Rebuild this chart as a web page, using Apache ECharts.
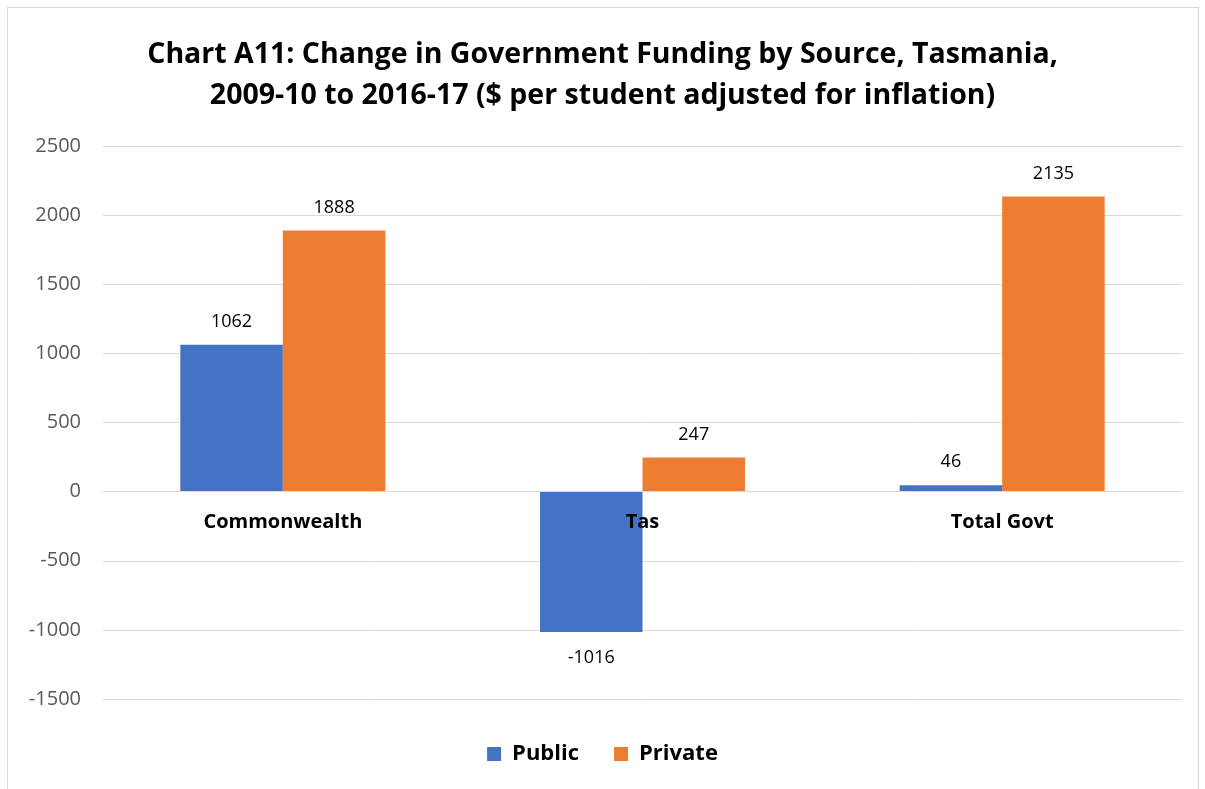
<!DOCTYPE html>
<html><head><meta charset="utf-8">
<script src="https://cdn.jsdelivr.net/npm/echarts@6/dist/echarts.min.js"></script>
<style>
html,body{margin:0;padding:0;background:#fff;}
#frame{position:absolute;left:7px;top:7px;width:1192px;height:800px;border:1px solid #d9d9d9;box-sizing:border-box;}
#chart{position:absolute;left:0;top:0;width:1205px;height:789px;}
</style></head>
<body>
<div id="frame"></div>
<div id="chart"></div>
<script>
const categories = ['Commonwealth', 'Tas', 'Total Govt'];
const publicValues = [1062, -1016, 46];
const privateValues = [1888, 247, 2135];
const seriesNames = ['Public', 'Private'];
const yMin = -1500, yMax = 2500, yStep = 500;

const gridTop = 146, gridBottom = 90, chartH = 789;
const gridH = chartH - gridTop - gridBottom;
const zeroOffset = gridH * (0 - yMin) / (yMax - yMin);

const chart = echarts.init(document.getElementById('chart'));
const labelStyle = {show: true, position: 'top', distance: 14, color: '#000', fontSize: 18, fontFamily: 'Open Sans'};
const withNegLabel = arr => arr.map(v => v < 0 ? {value: v, label: {distance: 17}} : v);
chart.setOption({
  animation: false,
  title: {
    text: 'Chart A11: Change in Government Funding by Source, Tasmania,\n2009-10 to 2016-17 ($ per student adjusted for inflation)',
    left: 'center', top: 29,
    textStyle: {fontFamily: 'Open Sans', fontWeight: 'bold', fontSize: 28.5, color: '#000', lineHeight: 41}
  },
  legend: {
    bottom: 19, left: 'center', itemWidth: 14, itemHeight: 14, itemGap: 35,
    icon: 'rect',
    textStyle: {fontFamily: 'Open Sans', fontWeight: 'bold', fontSize: 22, color: '#000', padding: [0, 0, 0, 6]},
    data: seriesNames
  },
  grid: {left: 103, right: 23, top: gridTop, bottom: gridBottom},
  xAxis: {
    type: 'category', data: categories, position: 'bottom', offset: -zeroOffset, z: 5,
    axisLine: {show: true, onZero: false, lineStyle: {color: '#d9d9d9', width: 1}},
    axisTick: {show: false},
    axisLabel: {fontFamily: 'Open Sans', fontWeight: 'bold', fontSize: 20, color: '#000', margin: 21}
  },
  yAxis: {
    type: 'value', min: yMin, max: yMax, interval: yStep,
    axisLine: {show: false}, axisTick: {show: false},
    splitLine: {lineStyle: {color: '#d9d9d9', width: 1}},
    axisLabel: {fontFamily: 'Open Sans', fontSize: 20, color: '#595959', margin: 22, formatter: v => String(v)}
  },
  series: [
    {name: seriesNames[0], type: 'bar', data: withNegLabel(publicValues), barGap: '0%', barCategoryGap: '43%',
     itemStyle: {color: '#4472c4'},
     label: Object.assign({}, labelStyle, {position: 'outside'})},
    {name: seriesNames[1], type: 'bar', data: privateValues, barGap: '0%', barCategoryGap: '43%',
     itemStyle: {color: '#ed7d31'}, label: labelStyle}
  ]
});
</script>
</body></html>
